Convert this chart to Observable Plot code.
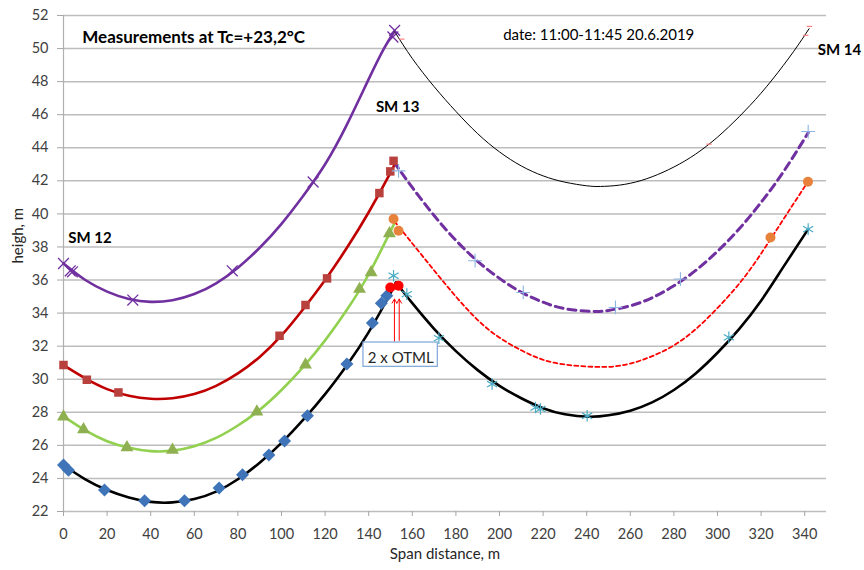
<!DOCTYPE html>
<html>
<head>
<meta charset="utf-8">
<script src="https://cdn.jsdelivr.net/npm/d3@7"></script>
<script src="https://cdn.jsdelivr.net/npm/@observablehq/plot@0.6"></script>
<style>
  html, body { margin: 0; padding: 0; background: #fff; }
  #chart { width: 864px; height: 570px; }
</style>
</head>
<body>
<div id="chart"></div>
<script>
// Axis ticks
const xTicks = [0, 20, 40, 60, 80, 100, 120, 140, 160, 180, 200, 220, 240, 260, 280, 300, 320, 340];
const yTicks = [22, 24, 26, 28, 30, 32, 34, 36, 38, 40, 42, 44, 46, 48, 50, 52];

// Span SM 12 – SM 13: measured points [distance m, height m]
const topWirePts = [[0, 37.0], [3.1, 36.56], [4.1, 36.5], [31.8, 34.79], [77.4, 36.56], [114.5, 41.93], [151.1, 50.7], [151.9, 51.1]];
const upperPhasePts = [[0, 30.86], [10.7, 29.97], [25.2, 29.2], [99.1, 32.63], [111, 34.49], [120.9, 36.1], [144.9, 41.26], [149.9, 42.57], [151.4, 43.21]];
const middlePhasePts = [[0, 27.73], [9.2, 26.96], [29.1, 25.87], [50, 25.72], [88.7, 28.03], [111, 30.88], [135.8, 35.45], [141.1, 36.46], [149.5, 38.82]];
const lowerPhasePts = [[0, 24.81], [2.3, 24.5], [18.8, 23.3], [37.2, 22.65], [55.5, 22.65], [71.4, 23.42], [82.1, 24.22], [94.2, 25.41], [101.4, 26.26], [111.9, 27.79], [130, 30.92], [141.7, 33.4], [145.8, 34.6], [148.3, 35.05]];
const otmlPts = [[149.9, 35.55], [153.7, 35.65]];

// Span SM 12 – SM 13: fitted sag curves
const topWireCurve = [[0, 37.0], [10, 36.0], [20, 35.3], [30, 34.85], [40, 34.68], [50, 34.78], [60, 35.15], [70, 35.8], [80, 36.75], [90, 37.95], [100, 39.4], [110, 41.1], [120, 43.0], [130, 45.4], [140, 48.15], [146.8, 49.95], [151.8, 51.05]];
const upperPhaseCurve = [[0, 30.85], [10, 30.05], [20, 29.4], [30, 29.0], [40, 28.82], [50, 28.85], [60, 29.1], [70, 29.6], [80, 30.35], [90, 31.35], [100, 32.65], [110, 34.25], [120, 36.0], [130, 37.95], [140, 40.1], [150, 42.5], [151.6, 42.95]];
const middlePhaseCurve = [[0, 27.75], [10, 26.9], [20, 26.25], [30, 25.85], [40, 25.65], [50, 25.68], [60, 25.95], [70, 26.45], [80, 27.2], [90, 28.15], [100, 29.35], [110, 30.75], [120, 32.35], [130, 34.2], [140, 36.35], [150, 38.95], [151.5, 39.35]];
const lowerPhaseCurve = [[0, 24.8], [10, 23.95], [20, 23.3], [30, 22.85], [40, 22.58], [50, 22.55], [60, 22.75], [70, 23.2], [80, 23.95], [90, 24.95], [100, 26.15], [110, 27.55], [120, 29.1], [130, 30.85], [140, 32.85], [150, 35.2], [152.5, 35.85]];

// Span SM 13 – SM 14: measured points
const topWire2Pts = [[155.2, 50.57], [296.1, 44.22], [340.5, 50.8], [342.2, 51.34]];
const upperPhase2Pts = [[153.7, 42.6], [188.8, 37.17], [210.9, 35.25], [253.2, 34.34], [283.0, 36.06], [341.6, 44.98]];
const middlePhase2Pts = [[151.4, 39.69], [153.7, 38.98], [324.3, 38.57], [341.5, 41.94]];
const lowerPhase2Pts = [[151.4, 36.26], [157.5, 35.15], [172.2, 32.49], [196.6, 29.71], [216.5, 28.29], [218.8, 28.2], [240.2, 27.79], [305.2, 32.53], [341.6, 39.08]];

// Span SM 13 – SM 14: fitted sag curves
const topWire2Curve = [[151.8, 51.05], [160, 49.4], [170, 47.7], [180, 46.2], [190, 44.85], [200, 43.75], [210, 42.9], [220, 42.3], [230, 41.92], [240, 41.7], [246.3, 41.66], [255, 41.74], [265, 42.02], [275, 42.52], [285, 43.2], [295, 44.1], [305, 45.24], [315, 46.57], [325, 48.1], [335, 49.84], [342, 51.2]];
const upperPhase2Curve = [[151.5, 43.15], [160, 41.6], [170, 39.9], [180, 38.4], [190, 37.13], [200, 36.1], [210, 35.26], [220, 34.66], [230, 34.27], [242.5, 34.1], [250, 34.16], [260, 34.44], [270, 34.93], [280, 35.65], [290, 36.58], [300, 37.74], [310, 39.1], [320, 40.7], [330, 42.5], [341.6, 44.9]];
const middlePhase2Curve = [[151.8, 39.55], [165, 37.4], [180, 35.0], [195, 33.0], [210, 31.75], [225, 31.0], [244, 30.75], [260, 30.95], [280, 32.05], [297, 33.9], [311.3, 36.0], [322, 38.0], [331.6, 39.95], [341.5, 41.95]];
const lowerPhase2Curve = [[152.5, 35.85], [160, 34.6], [170, 33.05], [180, 31.7], [190, 30.55], [200, 29.6], [210, 28.85], [220, 28.25], [230, 27.88], [241, 27.73], [250, 27.82], [260, 28.1], [270, 28.6], [280, 29.35], [290, 30.35], [300, 31.6], [310, 33.05], [320, 34.75], [330, 36.75], [341.6, 39.08]];

// Short horizontal dash marker
const dash = {
  draw(context, size) {
    const r = Math.sqrt(size) / 2;
    context.moveTo(-r, 0);
    context.lineTo(r, 0);
  }
};

// Square-proportioned diamond marker
const rhombus = {
  draw(context, size) {
    const r = Math.sqrt(size / Math.PI);
    context.moveTo(0, -r);
    context.lineTo(r, 0);
    context.lineTo(0, r);
    context.lineTo(-r, 0);
    context.closePath();
  }
};

const X = d => d[0];
const Y = d => d[1];
const font = "Lato, 'Open Sans', sans-serif";

const chart = Plot.plot({
  width: 864,
  height: 570,
  marginTop: 15,
  marginBottom: 59,
  marginLeft: 63,
  marginRight: 38,
  style: { fontFamily: font, fontSize: "14px", background: "#fff", color: "#404040", overflow: "visible" },
  x: { domain: [0, 350] },
  y: { domain: [22, 52] },
  marks: [
    Plot.gridY(yTicks, { stroke: "#bdbdbd", strokeOpacity: 1, strokeWidth: 1.5 }),
    Plot.ruleX([0], { stroke: "#b0b0b0", strokeWidth: 1.2 }),
    Plot.axisY(yTicks, { tickSize: 6, tickPadding: 9, stroke: "#a6a6a6", fill: "#404040", fontSize: 14.5, label: null }),
    Plot.axisX(xTicks, { tickSize: 5, tickPadding: 12, stroke: "#a6a6a6", fill: "#404040", fontSize: 14.5, label: null }),

    // sag curves, SM 12 – SM 13
    Plot.line(topWireCurve, { x: X, y: Y, curve: "natural", stroke: "#7030A0", strokeWidth: 2.6 }),
    Plot.line(upperPhaseCurve, { x: X, y: Y, curve: "natural", stroke: "#C00000", strokeWidth: 2.6 }),
    Plot.line(middlePhaseCurve, { x: X, y: Y, curve: "natural", stroke: "#92D050", strokeWidth: 2.6 }),
    Plot.line(lowerPhaseCurve, { x: X, y: Y, curve: "natural", stroke: "#000", strokeWidth: 2.6 }),

    // sag curves, SM 13 – SM 14
    Plot.line(topWire2Curve, { x: X, y: Y, curve: "natural", stroke: "#000", strokeWidth: 1 }),
    Plot.line(upperPhase2Curve, { x: X, y: Y, curve: "natural", stroke: "#7030A0", strokeWidth: 3, strokeDasharray: "8,5" }),
    Plot.line(middlePhase2Curve, { x: X, y: Y, curve: "natural", stroke: "#FF0000", strokeWidth: 1.8, strokeDasharray: "4,3" }),
    Plot.line(lowerPhase2Curve, { x: X, y: Y, curve: "natural", stroke: "#000", strokeWidth: 2.6 }),

    // measured points
    Plot.dot(topWirePts, { x: X, y: Y, symbol: "times", r: 5, stroke: "#7030A0", strokeWidth: 1.3 }),
    Plot.dot(upperPhasePts, { x: X, y: Y, symbol: "square", r: 4.8, fill: "#B8403D" }),
    Plot.dot(middlePhasePts, { x: X, y: Y, symbol: "triangle", r: 4.8, fill: "#8FB050" }),
    Plot.dot(lowerPhasePts, { x: X, y: Y, symbol: rhombus, r: 6.5, fill: "#3F75B8" }),
    Plot.dot(topWire2Pts, { x: X, y: Y, symbol: dash, r: 3, stroke: "#FF7F7F", strokeWidth: 1.2 }),
    Plot.dot(upperPhase2Pts, { x: X, y: Y, symbol: "plus", r: 4.5, stroke: "#8DB4E2", strokeWidth: 1.1 }),
    Plot.dot(middlePhase2Pts, { x: X, y: Y, symbol: "circle", r: 5, fill: "#E8823A" }),
    Plot.dot(otmlPts, { x: X, y: Y, symbol: "circle", r: 5, fill: "#FF0000" }),
    Plot.dot(lowerPhase2Pts, { x: X, y: Y, symbol: "asterisk", r: 5.5, stroke: "#4BACC6", strokeWidth: 1.2 }),

    // OTML callout
    Plot.arrow([[151.8, 32.3, 151.8, 34.85], [154.0, 32.35, 154.0, 34.85]], {
      x1: d => d[0], y1: d => d[1], x2: d => d[2], y2: d => d[3],
      stroke: "#FF0000", strokeWidth: 1, headLength: 7, bend: false
    }),
    Plot.rect([[137.6, 171.7, 30.75, 32.22]], {
      x1: d => d[0], x2: d => d[1], y1: d => d[2], y2: d => d[3],
      fill: "#fff", stroke: "#7EA6D9", strokeWidth: 1.2
    }),
    Plot.text(["2 x OTML"], { x: 154.7, y: 31.25, text: d => d, fontSize: 15, fill: "#262626", textAnchor: "middle" }),

    // labels
    Plot.text(["Measurements at Tc=+23,2°C"], { x: 8.6, y: 50.69, text: d => d, textAnchor: "start", fontSize: 17, fontWeight: "bold", fill: "#000" }),
    Plot.text(["date: 11:00-11:45 20.6.2019"], { x: 201.7, y: 50.8, text: d => d, textAnchor: "start", fontSize: 15, fill: "#000" }),
    Plot.text(["SM 12"], { x: 2.2, y: 38.56, text: d => d, textAnchor: "start", fontSize: 15, fontWeight: "bold", fill: "#000" }),
    Plot.text(["SM 13"], { x: 143.3, y: 46.47, text: d => d, textAnchor: "start", fontSize: 15, fontWeight: "bold", fill: "#000" }),
    Plot.text(["SM 14"], { x: 346.0, y: 49.91, text: d => d, textAnchor: "start", fontSize: 15, fontWeight: "bold", fill: "#000" }),

    // axis titles
    Plot.text(["heigh, m"], { frameAnchor: "left", dx: -45, rotate: -90, text: d => d, fontSize: 15, fill: "#262626" }),
    Plot.text(["Span distance, m"], { frameAnchor: "bottom", dy: 47, text: d => d, fontSize: 15, fill: "#262626" })
  ]
});

document.getElementById("chart").appendChild(chart);
</script>
</body>
</html>
